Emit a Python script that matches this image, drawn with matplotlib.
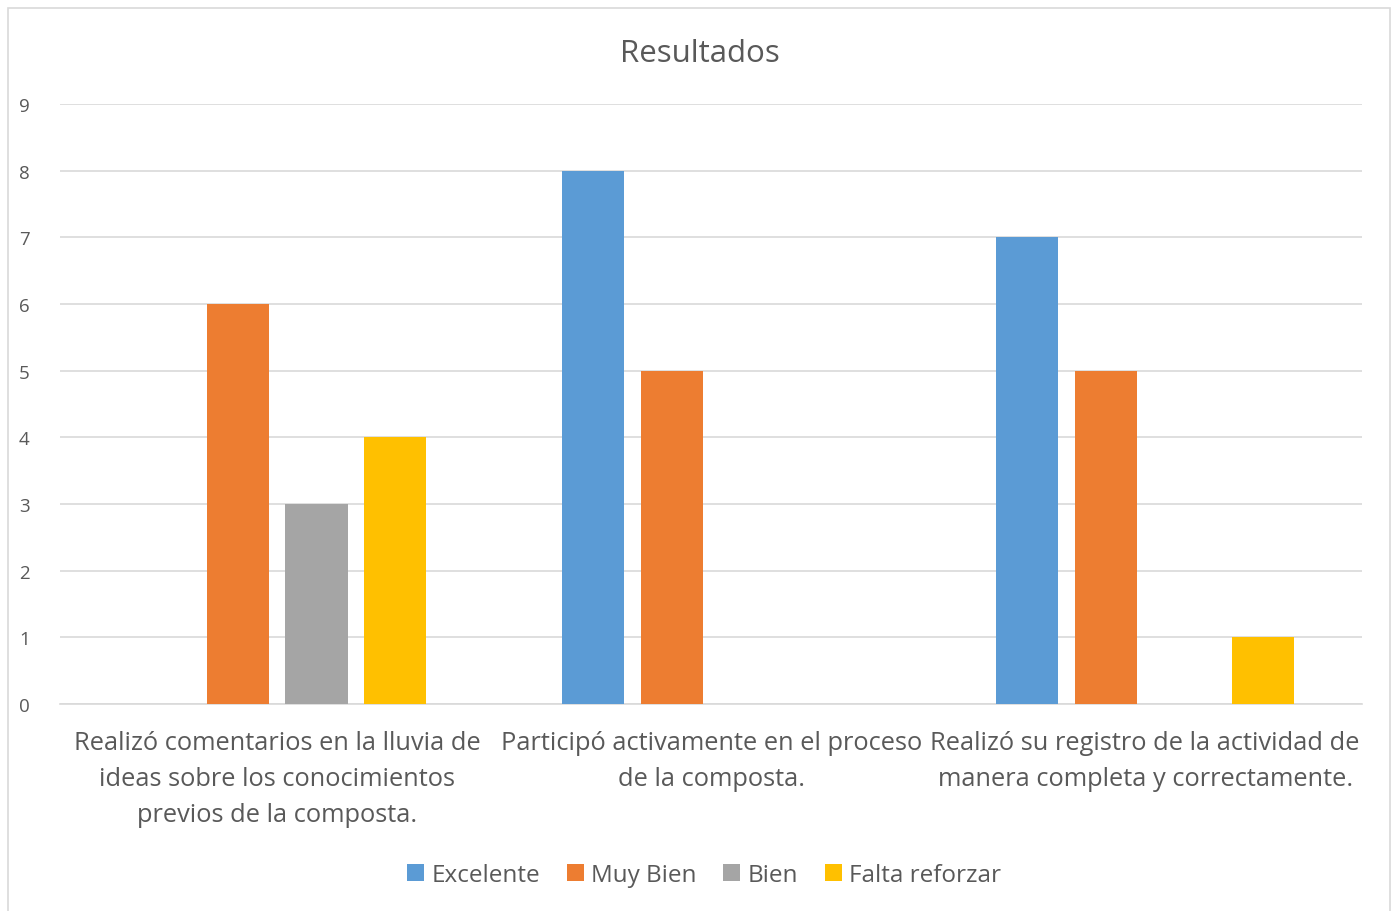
import numpy as np
import matplotlib.pyplot as plt
from matplotlib.patches import Rectangle

categories = [
    "Realizó comentarios en la lluvia de\nideas sobre los conocimientos\nprevios de la composta.",
    "Participó activamente en el proceso\nde la composta.",
    "Realizó su registro de la actividad de\nmanera completa y correctamente.",
]
series_names = ["Excelente", "Muy Bien", "Bien", "Falta reforzar"]
excelente = [0, 8, 7]
muy_bien = [6, 5, 5]
bien = [3, 0, 0]
falta_reforzar = [4, 0, 1]

colors = ["#5B9BD5", "#ED7D31", "#A5A5A5", "#FFC000"]
text_color = "#595959"

plt.rcParams['font.family'] = ['Open Sans', 'DejaVu Sans']

fig = plt.figure(figsize=(14, 9.12), dpi=100)
ax = fig.add_axes([0.043, 0.227, 0.930, 0.658])

x = np.arange(len(categories))
step = 0.181
width = 0.143
all_series = [excelente, muy_bien, bien, falta_reforzar]
for i, (name, vals) in enumerate(zip(series_names, all_series)):
    ax.bar(x + (i - 1.5) * step, vals, width, color=colors[i], label=name, zorder=3)

ax.set_xlim(-0.5, 2.5)
ax.set_ylim(0, 9)
ax.set_yticks(range(0, 10))
ax.grid(axis='y', color='#D9D9D9', linewidth=1.2, zorder=0)
for s in ['top', 'right', 'left']:
    ax.spines[s].set_visible(False)
ax.spines['bottom'].set_color('#D9D9D9')
ax.spines['bottom'].set_linewidth(1.2)
ax.tick_params(axis='both', length=0, colors=text_color)
ax.tick_params(axis='y', labelsize=13.5, pad=22)
ax.set_xticks(x)
ax.set_xticklabels(categories, fontsize=18.3, color=text_color, linespacing=1.58)
ax.tick_params(axis='x', pad=19)

fig.text(0.5, 0.941, "Resultados", ha='center', va='center', fontsize=22.5, color=text_color)

leg = fig.legend(loc='center', bbox_to_anchor=(0.503, 0.04), ncol=4, frameon=False,
                 fontsize=17.5, handlelength=0.7, handleheight=0.7, handletextpad=0.3,
                 columnspacing=1.1)
for t in leg.get_texts():
    t.set_color(text_color)

fig.patches.append(Rectangle((0.006, -0.01), 0.987, 1.0, transform=fig.transFigure,
                             fill=False, edgecolor='#D9D9D9', linewidth=1.2))

fig.savefig("out.png", dpi=100)
